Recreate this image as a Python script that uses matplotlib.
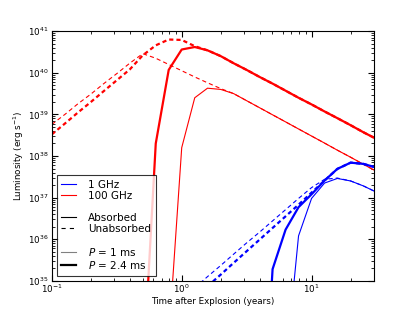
import numpy as np
import matplotlib
matplotlib.use("Agg")
import matplotlib.pyplot as plt
from matplotlib.lines import Line2D

# time grid (years)
t = [0.100, 0.126, 0.158, 0.200, 0.251, 0.316, 0.398, 0.501, 0.631, 0.794,
     1.00, 1.26, 1.58, 2.00, 2.51, 3.16, 3.98, 5.01, 6.31, 7.94,
     10.0, 12.6, 15.8, 20.0, 25.1, 31.6]

nan = np.nan

# log10 luminosity (erg/s), 100 GHz
red_p1_abs = [nan, nan, nan, nan, nan, nan, nan, nan, nan, 33.6,
              38.2, 39.40, 39.63, 39.60, 39.50, 39.33, 39.16, 38.99, 38.82, 38.65,
              38.48, 38.31, 38.14, 37.97, 37.80, 37.63]
red_p1_unabs = [38.76, 39.00, 39.25, 39.49, 39.74, 39.98, 40.23, 40.46, 40.35, 40.20,
                40.05, 39.90, 39.76, 39.62, 39.50, 39.33, 39.16, 38.99, 38.82, 38.65,
                38.48, 38.31, 38.14, 37.97, 37.80, 37.63]
red_p24_abs = [nan, nan, nan, nan, nan, nan, nan, 32.6, 38.3, 40.07,
               40.56, 40.62, 40.54, 40.40, 40.23, 40.07, 39.90, 39.74, 39.57, 39.40,
               39.24, 39.07, 38.91, 38.74, 38.57, 38.41]
red_p24_unabs = [38.52, 38.78, 39.04, 39.30, 39.56, 39.82, 40.08, 40.42, 40.66, 40.80,
                 40.79, 40.64, 40.54, 40.40, 40.23, 40.07, 39.90, 39.74, 39.57, 39.40,
                 39.24, 39.07, 38.91, 38.74, 38.57, 38.41]

# 1 GHz
blue_p1_abs = [nan, nan, nan, nan, nan, nan, nan, nan, nan, nan,
               nan, nan, nan, nan, nan, nan, nan, nan, 32.9, 36.08,
               36.98, 37.35, 37.46, 37.40, 37.28, 37.13]
blue_p1_unabs = [nan, nan, nan, nan, nan, nan, nan, nan, nan, nan,
                 nan, 34.83, 35.10, 35.37, 35.64, 35.91, 36.17, 36.44, 36.71, 36.98,
                 37.24, 37.44, 37.47, 37.40, 37.28, 37.13]
blue_p24_abs = [nan, nan, nan, nan, nan, nan, nan, nan, nan, nan,
                nan, nan, nan, nan, nan, nan, 30.0, 35.28, 36.23, 36.77,
                37.08, 37.41, 37.69, 37.84, 37.81, 37.72]
blue_p24_unabs = [nan, nan, nan, nan, nan, nan, nan, nan, nan, nan,
                  nan, nan, 34.87, 35.15, 35.43, 35.71, 35.99, 36.27, 36.55, 36.83,
                  37.12, 37.41, 37.69, 37.84, 37.81, 37.72]

plt.rcParams["font.size"] = 6.3
plt.rcParams["xtick.direction"] = "in"
plt.rcParams["ytick.direction"] = "in"
plt.rcParams["lines.scale_dashes"] = False

fig = plt.figure(figsize=(4.15, 3.12), dpi=100)
ax = fig.add_axes([0.125, 0.1, 0.775, 0.8])

thin, thick = 0.8, 1.6
dash = (0, (3, 2.2))
series = [
    (red_p1_abs, "r", "-", thin),
    (red_p1_unabs, "r", dash, thin),
    (red_p24_abs, "r", "-", thick),
    (red_p24_unabs, "r", dash, thick),
    (blue_p1_abs, "b", "-", thin),
    (blue_p1_unabs, "b", dash, thin),
    (blue_p24_abs, "b", "-", thick),
    (blue_p24_unabs, "b", dash, thick),
]
for vals, c, ls, lw in series:
    ax.plot(t, 10 ** np.array(vals), color=c, ls=ls, lw=lw)

ax.set_xscale("log")
ax.set_yscale("log")
ax.set_xlim(0.1, 30)
ax.set_ylim(1e35, 1e41)
ax.tick_params(which="both", top=True, right=True)
ax.tick_params(axis="x", which="both", pad=1.5)
ax.tick_params(axis="y", which="both", pad=2.5)
ax.tick_params(which="major", length=4)
ax.tick_params(which="minor", length=2)
ax.set_xlabel("Time after Explosion (years)", labelpad=1)
ax.set_ylabel("Luminosity (erg s$^{-1}$)", labelpad=1)

blank = Line2D([], [], color="none")
handles = [
    Line2D([], [], color="b", lw=thin),
    Line2D([], [], color="r", lw=thin),
    blank,
    Line2D([], [], color="k", lw=thin),
    Line2D([], [], color="k", lw=thin, ls=(0, (3, 3))),
    blank,
    Line2D([], [], color="0.5", lw=thin),
    Line2D([], [], color="k", lw=thick),
]
labels = ["1 GHz", "100 GHz", " ", "Absorbed", "Unabsorbed", " ",
          "$P$ = 1 ms", "$P$ = 2.4 ms"]
leg = ax.legend(handles, labels, loc="lower left", bbox_to_anchor=(0.015, 0.02),
                borderaxespad=0, fancybox=False, fontsize=7.5, handlelength=1.45,
                handletextpad=1.1, labelspacing=0.1, borderpad=0.45)
leg.get_frame().set_edgecolor("k")
leg.get_frame().set_linewidth(0.8)

fig.savefig("out.png", dpi=100)
